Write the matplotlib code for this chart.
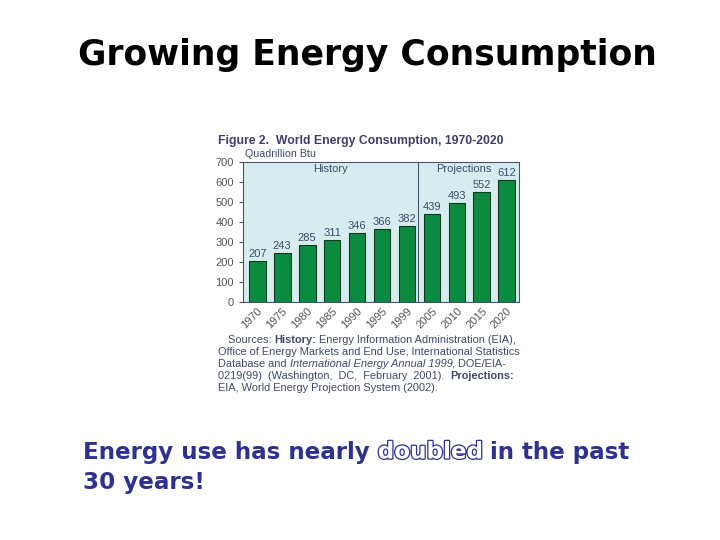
import matplotlib.pyplot as plt
import matplotlib.patheffects as pe
import numpy as np

# datos de la grafica
years = ['1970', '1975', '1980', '1985', '1990', '1995', '1999',
         '2005', '2010', '2015', '2020']
consumo = [207, 243, 285, 311, 346, 366, 382, 439, 493, 552, 612]
n_hist = 7

navy = '#2e3192'
gris = '#4a5270'
texto = '#3d4a6b'

plt.rcParams['font.family'] = ['Liberation Sans', 'DejaVu Sans']

fig = plt.figure(figsize=(7.2, 5.4), dpi=100)
fig.patch.set_facecolor('white')

# titulo de la diapositiva
fig.text(367 / 720, 0.898, 'Growing Energy Consumption', ha='center', va='center',
         fontsize=24.9, fontweight='bold', color='black', family='DejaVu Sans')

ax = fig.add_axes([243 / 720, 1 - 302 / 540, 276 / 720, 140 / 540])
ax.set_facecolor('#d6edf0')
x = np.arange(len(years))
ax.bar(x, consumo, width=0.67, color='#0b8b3f', edgecolor='#123a20', linewidth=0.8)
for xi, v in zip(x, consumo):
    ax.text(xi, v + 10, str(v), ha='center', va='bottom', fontsize=8, color=texto)

ax.axvline(n_hist - 0.54, color=gris, linewidth=0.8)
ax.text((n_hist - 0.54 - 0.573) / 2, 692, 'History', ha='center', va='top',
        fontsize=8, color=texto)
ax.text((n_hist - 0.54 + 10.49) / 2 - 0.2, 692, 'Projections', ha='center', va='top',
        fontsize=8, color=texto)

ax.set_xlim(-0.573, 10.49)
ax.set_ylim(0, 700)
ax.set_yticks(range(0, 701, 100))
ax.tick_params(axis='y', labelsize=8, colors=gris, length=3, width=0.8, labelcolor='#555')
ax.set_xticks(x)
ax.set_xticklabels(years, rotation=45, ha='right', rotation_mode='anchor')
ax.tick_params(axis='x', labelsize=8, length=0, labelcolor='#555', pad=3)
for s in ['left', 'bottom', 'top', 'right']:
    ax.spines[s].set_color(gris)
    ax.spines[s].set_linewidth(0.8)

fig.text(218 / 720, 1 - 141 / 540, 'Figure 2.  World Energy Consumption, 1970-2020',
         fontsize=8.8, fontweight='bold', color='#3b3f6e', va='center')
fig.text(245 / 720, 1 - 154 / 540, 'Quadrillion Btu', fontsize=7.7, color=texto,
         va='center')

# fuentes, con partes en negrita y cursiva
lineas = [
    [('Sources: ', 'normal', 'normal'), ('History:', 'bold', 'normal'),
     (' Energy Information Administration (EIA),', 'normal', 'normal')],
    [('Office of Energy Markets and End Use, International Statistics', 'normal', 'normal')],
    [('Database and ', 'normal', 'normal'), ('International Energy Annual 1999', 'normal', 'italic'),
     (', DOE/EIA-', 'normal', 'normal')],
    [('0219(99)  (Washington,  DC,  February  2001).  ', 'normal', 'normal'),
     ('Projections:', 'bold', 'normal')],
    [('EIA, World Energy Projection System (2002).', 'normal', 'normal')],
]
x0 = [228, 218, 218, 218, 218]
y0 = 340
for i, partes in enumerate(lineas):
    t = None
    for txt, w, st in partes:
        if t is None:
            t = fig.text(x0[i] / 720, 1 - (y0 + i * 12) / 540, txt, fontsize=7.9,
                         fontweight=w, fontstyle=st, color=texto, va='center')
        else:
            t = ax.annotate(txt, xy=(1, 0.5), xycoords=t, va='center', fontsize=7.9,
                            fontweight=w, fontstyle=st, color=texto,
                            annotation_clip=False)

# mensaje final
fs = 16.6
t1 = fig.text(83 / 720, 1 - 452 / 540, 'Energy use has nearly ', fontsize=fs,
              fontweight='bold', color=navy, va='center', family='DejaVu Sans')
t2 = ax.annotate('doubled', xy=(1, 0.5), xycoords=t1, va='center', fontsize=fs,
                 fontweight='bold', color='white', annotation_clip=False,
                 family='DejaVu Sans',
                 path_effects=[pe.Stroke(linewidth=1.8, foreground=navy), pe.Normal()])
ax.annotate(' in the past', xy=(1, 0.5), xycoords=t2, va='center', fontsize=fs,
            fontweight='bold', color=navy, annotation_clip=False, family='DejaVu Sans')
fig.text(83 / 720, 1 - 482 / 540, '30 years!', fontsize=fs, fontweight='bold',
         color=navy, va='center', family='DejaVu Sans')

fig.savefig('out.png', dpi=100)
